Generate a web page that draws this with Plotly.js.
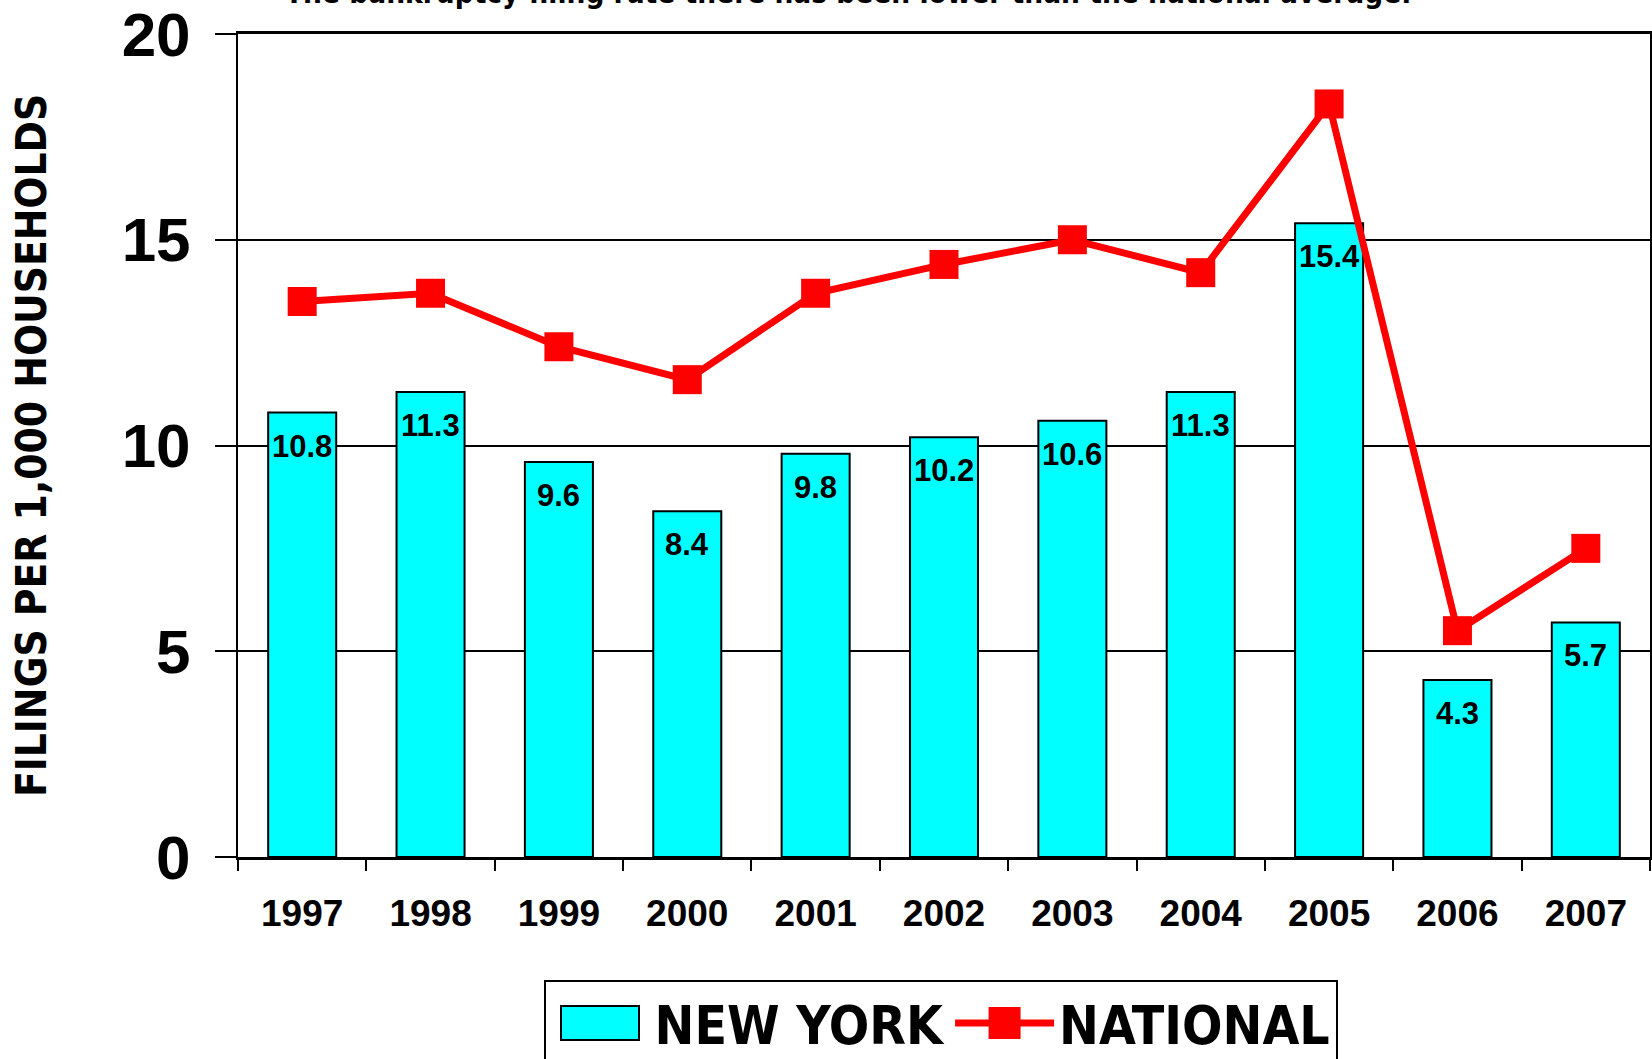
<!DOCTYPE html>
<html>
<head>
<meta charset="utf-8">
<script src="https://cdn.plot.ly/plotly-3.0.1.min.js"></script>
<style>
html,body{margin:0;padding:0;background:#fff;overflow:hidden;}
#chart{width:1652px;height:1059px;}
</style>
</head>
<body>
<div id="chart"></div>
<script>
const years = ["1997","1998","1999","2000","2001","2002","2003","2004","2005","2006","2007"];
const newYork = [10.8, 11.3, 9.6, 8.4, 9.8, 10.2, 10.6, 11.3, 15.4, 4.3, 5.7];
const national = [13.5, 13.7, 12.4, 11.6, 13.7, 14.4, 15.0, 14.2, 18.3, 5.5, 7.5];
const yTicks = [0, 5, 10, 15, 20];
const titleText = "The bankruptcy filing rate there has been lower than the national average.";
const yTitle = "FILINGS PER 1,000 HOUSEHOLDS";

const narrow = '"Liberation Sans Narrow", "Arial Narrow", "DejaVu Sans Condensed", Arial, sans-serif';
const bold = 'Arial, "Liberation Sans", sans-serif';

const barTrace = {
  type: 'bar',
  name: 'NEW YORK',
  x: years,
  y: newYork,
  marker: {color: '#00FFFF', line: {color: '#000000', width: 2}},
  hoverinfo: 'skip'
};
const lineTrace = {
  type: 'scatter',
  mode: 'lines+markers',
  name: 'NATIONAL',
  x: years,
  y: national,
  line: {color: '#FF0000', width: 7},
  marker: {symbol: 'square', size: 29, color: '#FF0000'},
  hoverinfo: 'skip'
};

const labelAnns = years.map((yr, i) => ({
  x: i, y: newYork[i], xref: 'x', yref: 'y',
  text: newYork[i].toFixed(1),
  showarrow: false, yanchor: 'top', yshift: -14,
  font: {family: bold, size: 31, color: '#000', weight: 700}
}));

const layout = {
  width: 1652, height: 1059,
  margin: {l: 238, r: 2, t: 34, b: 202},
  paper_bgcolor: '#fff', plot_bgcolor: '#fff',
  showlegend: true,
  bargap: 0.47,
  xaxis: {
    type: 'category',
    range: [-0.5, 10.5],
    tickson: 'boundaries',
    ticks: 'outside', ticklen: 11, tickwidth: 2, tickcolor: '#000',
    showline: true, linewidth: 3, linecolor: '#000', mirror: true,
    showgrid: false,
    ticklabelstandoff: 22,
    tickfont: {family: bold, size: 37, color: '#000', weight: 700},
    fixedrange: true
  },
  yaxis: {
    range: [0, 20],
    tickvals: yTicks,
    ticks: 'outside', ticklen: 21, tickwidth: 2, tickcolor: '#000',
    showline: true, linewidth: 2, linecolor: '#000', mirror: true,
    showgrid: true, gridcolor: '#000', gridwidth: 2,
    zeroline: false,
    ticklabelstandoff: 12,
    ticklabeloverflow: 'allow',
    tickfont: {family: bold, size: 62, color: '#000', weight: 900},
    title: {text: yTitle, standoff: 62, font: {family: narrow, size: 42, color: '#000', weight: 700}},
    fixedrange: true
  },
  legend: {
    orientation: 'h',
    xref: 'container', yref: 'container',
    x: 0.329, xanchor: 'left',
    y: 0.0746, yanchor: 'top',
    bordercolor: '#000', borderwidth: 2,
    bgcolor: '#fff',
    itemwidth: 99,
    font: {family: narrow, size: 53, color: '#000', weight: 700}
  },
  annotations: [
    {
      text: titleText, xref: 'paper', yref: 'paper',
      x: 0.432, y: 1.027, xanchor: 'center', yanchor: 'bottom',
      showarrow: false,
      font: {family: narrow, size: 29.5, color: '#000', weight: 700}
    }
  ].concat(labelAnns)
};

Plotly.newPlot('chart', [barTrace, lineTrace], layout, {displayModeBar: false, staticPlot: true}).then(function(gd){
  // enlarge legend swatches to match the reference's big symbols
  gd.querySelectorAll('.legend .legendpoints path').forEach(function(p){
    const d = (p.getAttribute('d') || '').replace(/\s/g, '');
    const cls = p.getAttribute('class') || '';
    if (cls.indexOf('scatterpts') >= 0) {
      p.setAttribute('d', 'M16,16H-16V-16H16Z');
    } else if (d === 'M6,6H-6V-6H6Z') {
      p.setAttribute('d', 'M39,17H-39V-17H39Z');
    }
  });
});
</script>
</body>
</html>
